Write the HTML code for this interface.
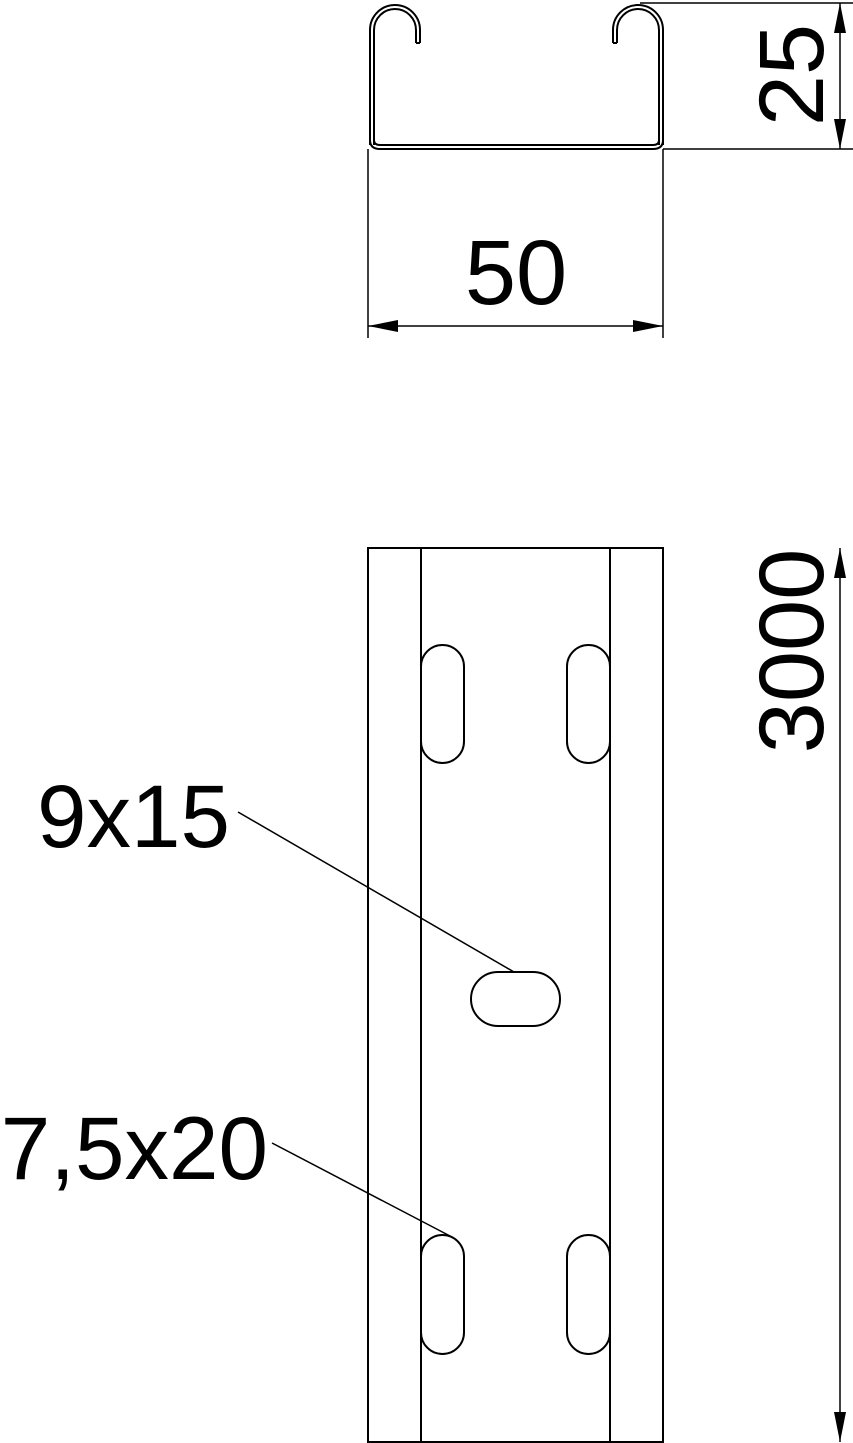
<!DOCTYPE html>
<html><head><style>body{margin:0;background:#fff}svg{display:block}</style></head>
<body>
<svg width="853" height="1443" viewBox="0 0 853 1443" xmlns="http://www.w3.org/2000/svg" font-family="Liberation Sans, sans-serif">
<g fill="none" stroke="#000" stroke-width="2">
<!-- profile -->
<path d="M370,145 L370,30 A25,25 0 0 1 420,30 L420,43"/>
<path d="M374,145 L374,30 A21,21 0 0 1 416,30 L416,43"/>
<path d="M416,43 L420,43"/>
<path d="M663,145 L663,30 A25,25 0 0 0 613,30 L613,43"/>
<path d="M659,145 L659,30 A21,21 0 0 0 617,30 L617,43"/>
<path d="M613,43 L617,43"/>
<path d="M370,140 Q370,149 380,149 L653,149 Q663,149 663,140"/>
<path d="M374,140 Q374,145 380,145 L653,145 Q659,145 659,140"/>
<!-- dims top -->
<line x1="640" y1="3" x2="853" y2="3" stroke-width="1.5"/>
<line x1="663" y1="149" x2="853" y2="149" stroke-width="1.5"/>
<line x1="840" y1="3" x2="840" y2="149" stroke-width="1.5"/>
<line x1="368" y1="149" x2="368" y2="338" stroke-width="1.5"/>
<line x1="663" y1="149" x2="663" y2="338" stroke-width="1.5"/>
<line x1="368" y1="326" x2="663" y2="326" stroke-width="1.5"/>
<!-- plan -->
<rect x="368" y="548" width="295" height="894"/>
<line x1="421" y1="548" x2="421" y2="1442"/>
<line x1="610" y1="548" x2="610" y2="1442"/>
<rect x="421" y="645" width="43" height="118" rx="21.5"/>
<rect x="567" y="645" width="43" height="118" rx="21.5"/>
<rect x="421" y="1235" width="43" height="119" rx="21.5"/>
<rect x="567" y="1235" width="43" height="119" rx="21.5"/>
<rect x="471" y="972" width="89" height="54" rx="27"/>
<line x1="840" y1="548" x2="840" y2="1442" stroke-width="1.5"/>
<line x1="238" y1="812" x2="514" y2="972" stroke-width="1.5"/>
<line x1="272" y1="1143" x2="450" y2="1236" stroke-width="1.5"/>
</g>
<g fill="#000">
<polygon points="840,3 834,33 846,33"/>
<polygon points="840,149 834,119 846,119"/>
<polygon points="368,326 398,320 398,332"/>
<polygon points="663,326 633,320 633,332"/>
<polygon points="840,548 834,578 846,578"/>
<polygon points="840,1442 834,1412 846,1412"/>
</g>
<g font-size="92" fill="#000">
<text x="516" y="304" text-anchor="middle">50</text>
<text transform="translate(823,75) rotate(-90)" text-anchor="middle">25</text>
<text transform="translate(823,651) rotate(-90)" text-anchor="middle">3000</text>
<text x="230" y="847" text-anchor="end" font-size="89">9x15</text>
<text x="268" y="1179" text-anchor="end" font-size="89">7,5x20</text>
</g>
</svg>
</body></html>
